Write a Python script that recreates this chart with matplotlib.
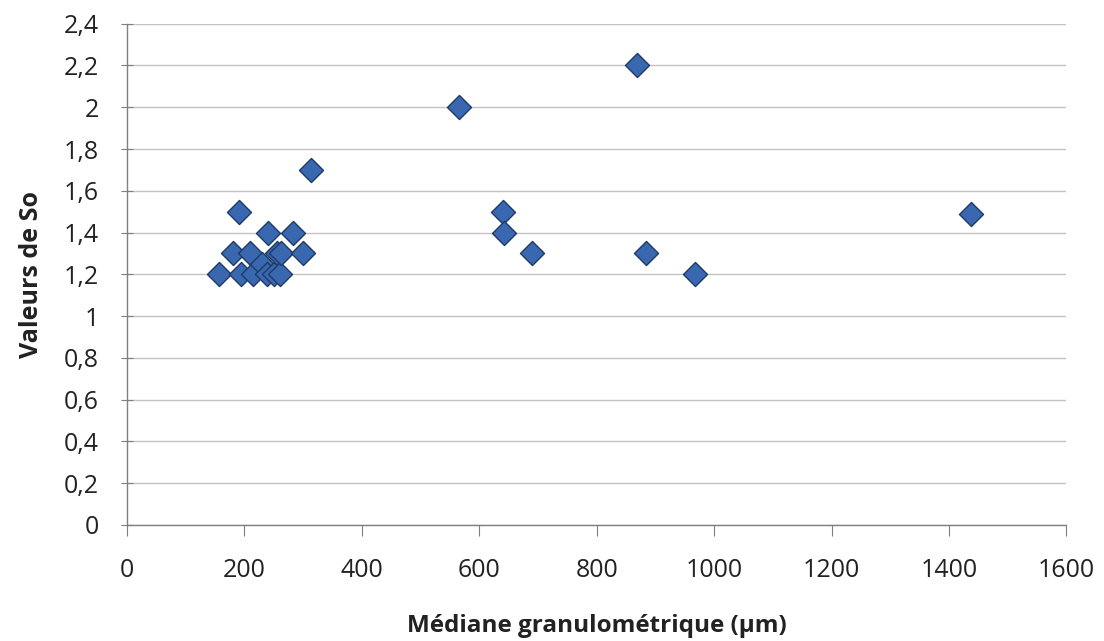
import matplotlib
matplotlib.use('Agg')
import matplotlib.pyplot as plt
from matplotlib.ticker import FuncFormatter
import numpy as np

plt.rcParams['font.family'] = ['Open Sans', 'DejaVu Sans']

# median grain size (um) and So values
mediane = [157, 190, 181, 195, 210, 215, 230, 238, 240, 250, 255, 260, 262,
           283, 300, 313, 566, 641, 642, 690, 869, 884, 968, 1438]
so = [1.2, 1.5, 1.3, 1.2, 1.3, 1.2, 1.25, 1.2, 1.4, 1.2, 1.3, 1.2, 1.3,
      1.4, 1.3, 1.7, 2.0, 1.5, 1.4, 1.3, 2.2, 1.3, 1.2, 1.49]

x_ticks = [0, 200, 400, 600, 800, 1000, 1200, 1400, 1600]
y_ticks = [0, 0.2, 0.4, 0.6, 0.8, 1, 1.2, 1.4, 1.6, 1.8, 2, 2.2, 2.4]

fig = plt.figure(figsize=(11.04, 6.41), dpi=100)
ax = fig.add_axes([0.115, 0.181, 0.851, 0.782])

ax.scatter(mediane, so, marker='D', s=150, color='#3A68B0',
           edgecolor='#1E3A66', linewidth=1.0, zorder=3)

ax.set_xlim(0, 1600)
ax.set_ylim(0, 2.4)
ax.set_xticks(x_ticks)
ax.set_yticks(y_ticks)

def virgule(v, pos):
    txt = ('%.1f' % v).rstrip('0').rstrip('.')
    return txt.replace('.', ',')

ax.yaxis.set_major_formatter(FuncFormatter(virgule))
ax.xaxis.set_major_formatter(FuncFormatter(lambda v, p: '%d' % v))

ax.grid(axis='y', color='#c8c0c0', linewidth=1.0)
ax.set_axisbelow(True)
for side in ['top', 'right']:
    ax.spines[side].set_visible(False)
for side in ['left', 'bottom']:
    ax.spines[side].set_color('#7f7f7f')
    ax.spines[side].set_linewidth(1.0)

ax.tick_params(axis='y', direction='inout', length=8, color='#7f7f7f',
               labelsize=18, pad=16, labelcolor='#222222')
ax.tick_params(axis='x', direction='out', length=8, color='#7f7f7f',
               labelsize=18, pad=16, labelcolor='#222222')

ax.set_xlabel('Médiane granulométrique (µm)', fontsize=17.5, fontweight='bold',
              labelpad=22, color='#222222')
ax.set_ylabel('Valeurs de So', fontsize=18, fontweight='bold',
              labelpad=14, color='#222222')

fig.savefig('out.png', dpi=100)
